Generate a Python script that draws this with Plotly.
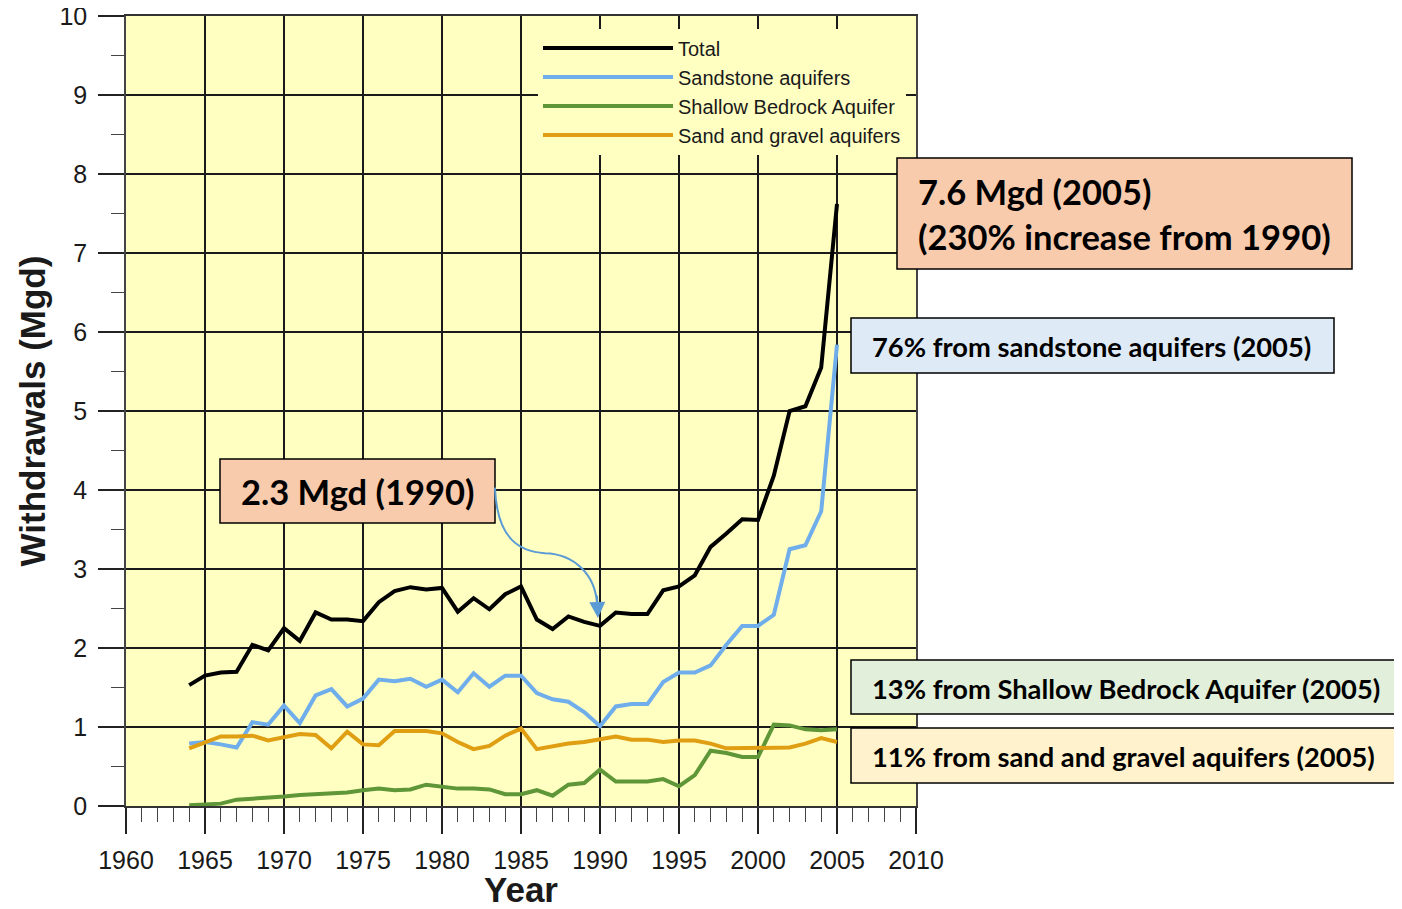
import plotly.graph_objects as go

years = list(range(1964, 2006))
total = [1.53, 1.65, 1.69, 1.70, 2.04, 1.97, 2.25, 2.09, 2.45, 2.36, 2.36, 2.34, 2.58, 2.72,
         2.77, 2.74, 2.76, 2.46, 2.63, 2.49, 2.68, 2.78, 2.36, 2.24, 2.40, 2.33, 2.28,
         2.45, 2.43, 2.43, 2.73, 2.78, 2.92, 3.28, 3.45, 3.63, 3.62, 4.18, 5.00, 5.06, 5.55, 7.62]
sandstone = [0.79, 0.81, 0.78, 0.74, 1.06, 1.03, 1.27, 1.05, 1.40, 1.48, 1.26, 1.36, 1.60, 1.58,
             1.61, 1.51, 1.60, 1.44, 1.68, 1.51, 1.65, 1.65, 1.43, 1.35, 1.32, 1.19, 1.01,
             1.26, 1.29, 1.29, 1.57, 1.69, 1.69, 1.78, 2.04, 2.28, 2.28, 2.42, 3.25, 3.30, 3.73, 5.84]
shallow = [0.01, 0.02, 0.03, 0.08, 0.09, 0.11, 0.12, 0.14, 0.15, 0.16, 0.17, 0.20, 0.22, 0.20,
           0.21, 0.27, 0.24, 0.22, 0.22, 0.21, 0.15, 0.15, 0.20, 0.13, 0.27, 0.29, 0.46,
           0.31, 0.31, 0.31, 0.34, 0.25, 0.39, 0.70, 0.67, 0.62, 0.62, 1.03, 1.02, 0.97, 0.96, 0.97]
sand_gravel = [0.73, 0.81, 0.88, 0.88, 0.89, 0.83, 0.87, 0.91, 0.90, 0.73, 0.94, 0.78, 0.77, 0.95,
               0.95, 0.95, 0.92, 0.81, 0.72, 0.76, 0.89, 0.98, 0.72, 0.76, 0.79, 0.81, 0.84,
               0.88, 0.84, 0.84, 0.81, 0.83, 0.83, 0.79, 0.73, 0.73, 0.73, 0.74, 0.74, 0.79, 0.86, 0.81]

series_names = ["Total", "Sandstone aquifers", "Shallow Bedrock Aquifer", "Sand and gravel aquifers"]
series_values = [total, sandstone, shallow, sand_gravel]
series_colors = ["#000000", "#6FAEEB", "#5E9638", "#E09E12"]

box_texts = [
    "7.6 Mgd (2005)<br>(230% increase from 1990)",
    "76% from sandstone aquifers (2005)",
    "13% from Shallow Bedrock Aquifer (2005)",
    "11% from sand and gravel aquifers (2005)",
]
label_1990 = "2.3 Mgd (1990)"

fig = go.Figure()
for name, vals, col in zip(series_names, series_values, series_colors):
    fig.add_trace(go.Scatter(x=years, y=vals, mode="lines", name=name,
                             line=dict(color=col, width=4)))

OFF = 8  # page body margin
W, H = 1402 - OFF, 909 - OFF
L, T = 126 - OFF, 16 - OFF
PW, PH = 790, 790
R, B = W - L - PW, H - T - PH


def px(xp):
    return (xp - OFF - L) / PW


def py(yp):
    return (T + PH - (yp - OFF)) / PH


def box(x0, y0, x1, y1, fill):
    fig.add_shape(type="rect", xref="paper", yref="paper",
                  x0=px(x0), x1=px(x1), y0=py(y1), y1=py(y0),
                  fillcolor=fill, line=dict(color="#000000", width=1.5), layer="above")


def text(xp, yp, s, size, anchor="left"):
    fig.add_annotation(xref="paper", yref="paper", x=px(xp), y=py(yp), text=s,
                       showarrow=False, xanchor=anchor, yanchor="middle", align="left",
                       font=dict(family="Lato", size=size, color="#000000", weight="bold"))


# annotation boxes
box(220, 459, 495, 523, "#F8CBAD")
text(239, 491, label_1990, 34.5)
box(897, 158, 1352, 269, "#F8CBAD")
text(916, 214, box_texts[0], 34.5)
box(851, 318, 1334, 373, "#DEEBF7")
text(870, 346, box_texts[1], 27.3)
box(851, 660, 1401, 714, "#E2EFDA")
text(870, 688, box_texts[2], 27.3)
box(851, 728, 1400, 783, "#FFF2CC")
text(870, 756, box_texts[3], 27.3)

# curved arrow from the 1990 label
fig.add_shape(type="path", xref="x", yref="y",
              path="M 1983.35,4.03 C 1983.48,3.37 1984.94,3.22 1986.52,3.20 "
                   "C 1988.42,3.19 1989.68,2.92 1989.81,2.57",
              line=dict(color="#5B9BD5", width=2), layer="above")
fig.add_annotation(x=1989.87, y=2.38, xref="x", yref="y", ax=-1, ay=-24, text="",
                   showarrow=True, arrowhead=2, arrowsize=1.6, arrowwidth=2,
                   arrowcolor="#5B9BD5", standoff=0)

axis_font = dict(family="Liberation Sans, Arial", size=25, color="#1a1a1a")
fig.update_xaxes(range=[1960, 2010], dtick=5, tick0=1960,
                 showgrid=True, gridcolor="#1a1a1a", gridwidth=1.5,
                 ticks="outside", ticklen=26, tickwidth=1.5, tickcolor="#222",
                 minor=dict(dtick=1, ticks="outside", ticklen=14, tickwidth=1, tickcolor="#444", showgrid=False),
                 showline=True, mirror=True, linecolor="#333", linewidth=1.5,
                 zeroline=False, tickfont=axis_font, ticklabelstandoff=5,
                 ticklabeloverflow="allow",
                 title=dict(text="<b>Year</b>", font=dict(family="Liberation Sans, Arial", size=35, color="#1a1a1a"),
                            standoff=8))
fig.update_yaxes(range=[0, 10], dtick=1,
                 showgrid=True, gridcolor="#1a1a1a", gridwidth=1.5,
                 ticks="outside", ticklen=26, tickwidth=1.5, tickcolor="#222",
                 minor=dict(dtick=0.5, ticks="outside", ticklen=13, tickwidth=1, tickcolor="#444", showgrid=False),
                 showline=True, mirror=True, linecolor="#444", linewidth=1.5,
                 zeroline=False, tickfont=axis_font, ticklabelstandoff=6,
                 ticklabeloverflow="allow",
                 title=dict(text="<b>Withdrawals (Mgd)</b>", font=dict(family="Liberation Sans, Arial", size=35, color="#1a1a1a"),
                            standoff=3))

fig.update_layout(
    width=W, height=H,
    margin=dict(l=L, r=R, t=T, b=B, autoexpand=False),
    paper_bgcolor="#FFFFFF", plot_bgcolor="#FFFFC2",
    showlegend=True,
    legend=dict(x=px(538), y=py(28.5), xanchor="left", yanchor="top",
                bgcolor="#FFFFC2", borderwidth=0, itemwidth=130,
                font=dict(family="Liberation Sans, Arial", size=20, color="#1a1a1a"),
                tracegroupgap=0),
)

fig.write_html("out.html")
